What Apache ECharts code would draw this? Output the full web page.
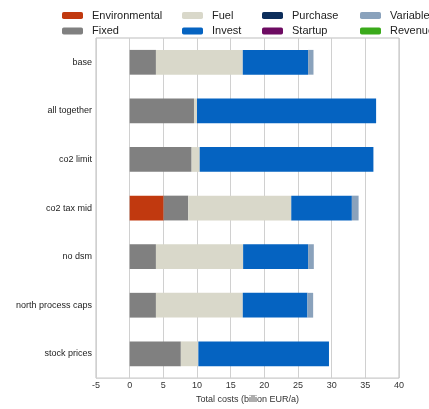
<!DOCTYPE html>
<html>
<head>
<meta charset="utf-8">
<script src="https://cdn.jsdelivr.net/npm/echarts@6/dist/echarts.min.js"></script>
<style>
  html, body { margin: 0; padding: 0; background: #fff; }
  #chart { width: 429px; height: 409px; }
</style>
</head>
<body>
<div id="chart"></div>
<script>
// Scenarios, top to bottom
const scenarios = ['base', 'all together', 'co2 limit', 'co2 tax mid', 'no dsm', 'north process caps', 'stock prices'];

// Cost components per scenario (billion EUR/a)
const environmental = [0, 0, 0, 5.05, 0, 0, 0];
const fixed         = [3.9, 9.55, 9.2, 3.65, 3.9, 3.9, 7.6];
const fuel          = [12.9, 0.45, 1.2, 15.3, 12.95, 12.9, 2.6];
const invest        = [9.7, 26.6, 25.8, 9.0, 9.65, 9.6, 19.4];
const purchase      = [0, 0, 0, 0, 0, 0, 0];
const startup       = [0, 0, 0, 0, 0, 0, 0];
const variable      = [0.8, 0, 0, 1.0, 0.85, 0.85, 0];
const revenue       = [0, 0, 0, 0, 0, 0, 0];

const xTicks = { min: -5, max: 40, step: 5 };
const axisTitle = 'Total costs (billion EUR/a)';

const components = [
  { name: 'Environmental', data: environmental, color: '#c1390f' },
  { name: 'Fixed',         data: fixed,         color: '#808080' },
  { name: 'Fuel',          data: fuel,          color: '#d9d8ca' },
  { name: 'Invest',        data: invest,        color: '#0563c1' },
  { name: 'Purchase',      data: purchase,      color: '#0c2d5a' },
  { name: 'Startup',       data: startup,       color: '#6d0b62' },
  { name: 'Variable',      data: variable,      color: '#8aa2bc' },
  { name: 'Revenue',       data: revenue,       color: '#3aaa1a' }
];

// Legend laid out in two rows, filled column by column
const legendSlots = {
  Environmental: [62, 0], Fixed: [62, 1],
  Fuel: [182, 0],         Invest: [182, 1],
  Purchase: [262, 0],     Startup: [262, 1],
  Variable: [360, 0],     Revenue: [360, 1]
};
const legends = components.map(c => ({
  data: [c.name],
  left: legendSlots[c.name][0],
  top: 10 + legendSlots[c.name][1] * 15.5,
  padding: 0,
  itemWidth: 21,
  itemHeight: 7,
  itemGap: 0,
  selectedMode: false,
  textStyle: { fontFamily: 'Liberation Sans, Arial, sans-serif', fontSize: 11, color: '#222', padding: [0, 0, 0, 4] }
}));

const chart = echarts.init(document.getElementById('chart'), null, { renderer: 'canvas' });
chart.setOption({
  animation: false,
  backgroundColor: '#ffffff',
  legend: legends,
  grid: { left: 96, right: 30, top: 38, bottom: 26, show: true, borderColor: '#bdbdbd', borderWidth: 1 },
  xAxis: {
    type: 'value',
    min: xTicks.min,
    max: xTicks.max,
    interval: xTicks.step,
    name: axisTitle,
    nameLocation: 'middle',
    nameGap: 14,
    nameTextStyle: { fontFamily: 'Liberation Sans, Arial, sans-serif', fontSize: 9, color: '#333' },
    axisLine: { show: false },
    axisTick: { show: false },
    axisLabel: { fontFamily: 'Liberation Sans, Arial, sans-serif', fontSize: 9, color: '#333', margin: 3 },
    splitLine: { show: true, lineStyle: { color: '#d0d0d0', width: 1 } }
  },
  yAxis: {
    type: 'category',
    data: scenarios,
    inverse: true,
    axisLine: { show: false },
    axisTick: { show: false },
    axisLabel: { fontFamily: 'Liberation Sans, Arial, sans-serif', fontSize: 9, color: '#222', margin: 4 }
  },
  series: components.map(c => ({
    name: c.name,
    type: 'bar',
    stack: 'costs',
    data: c.data,
    barWidth: '51%',
    itemStyle: { color: c.color },
    emphasis: { disabled: true }
  }))
});
</script>
</body>
</html>
